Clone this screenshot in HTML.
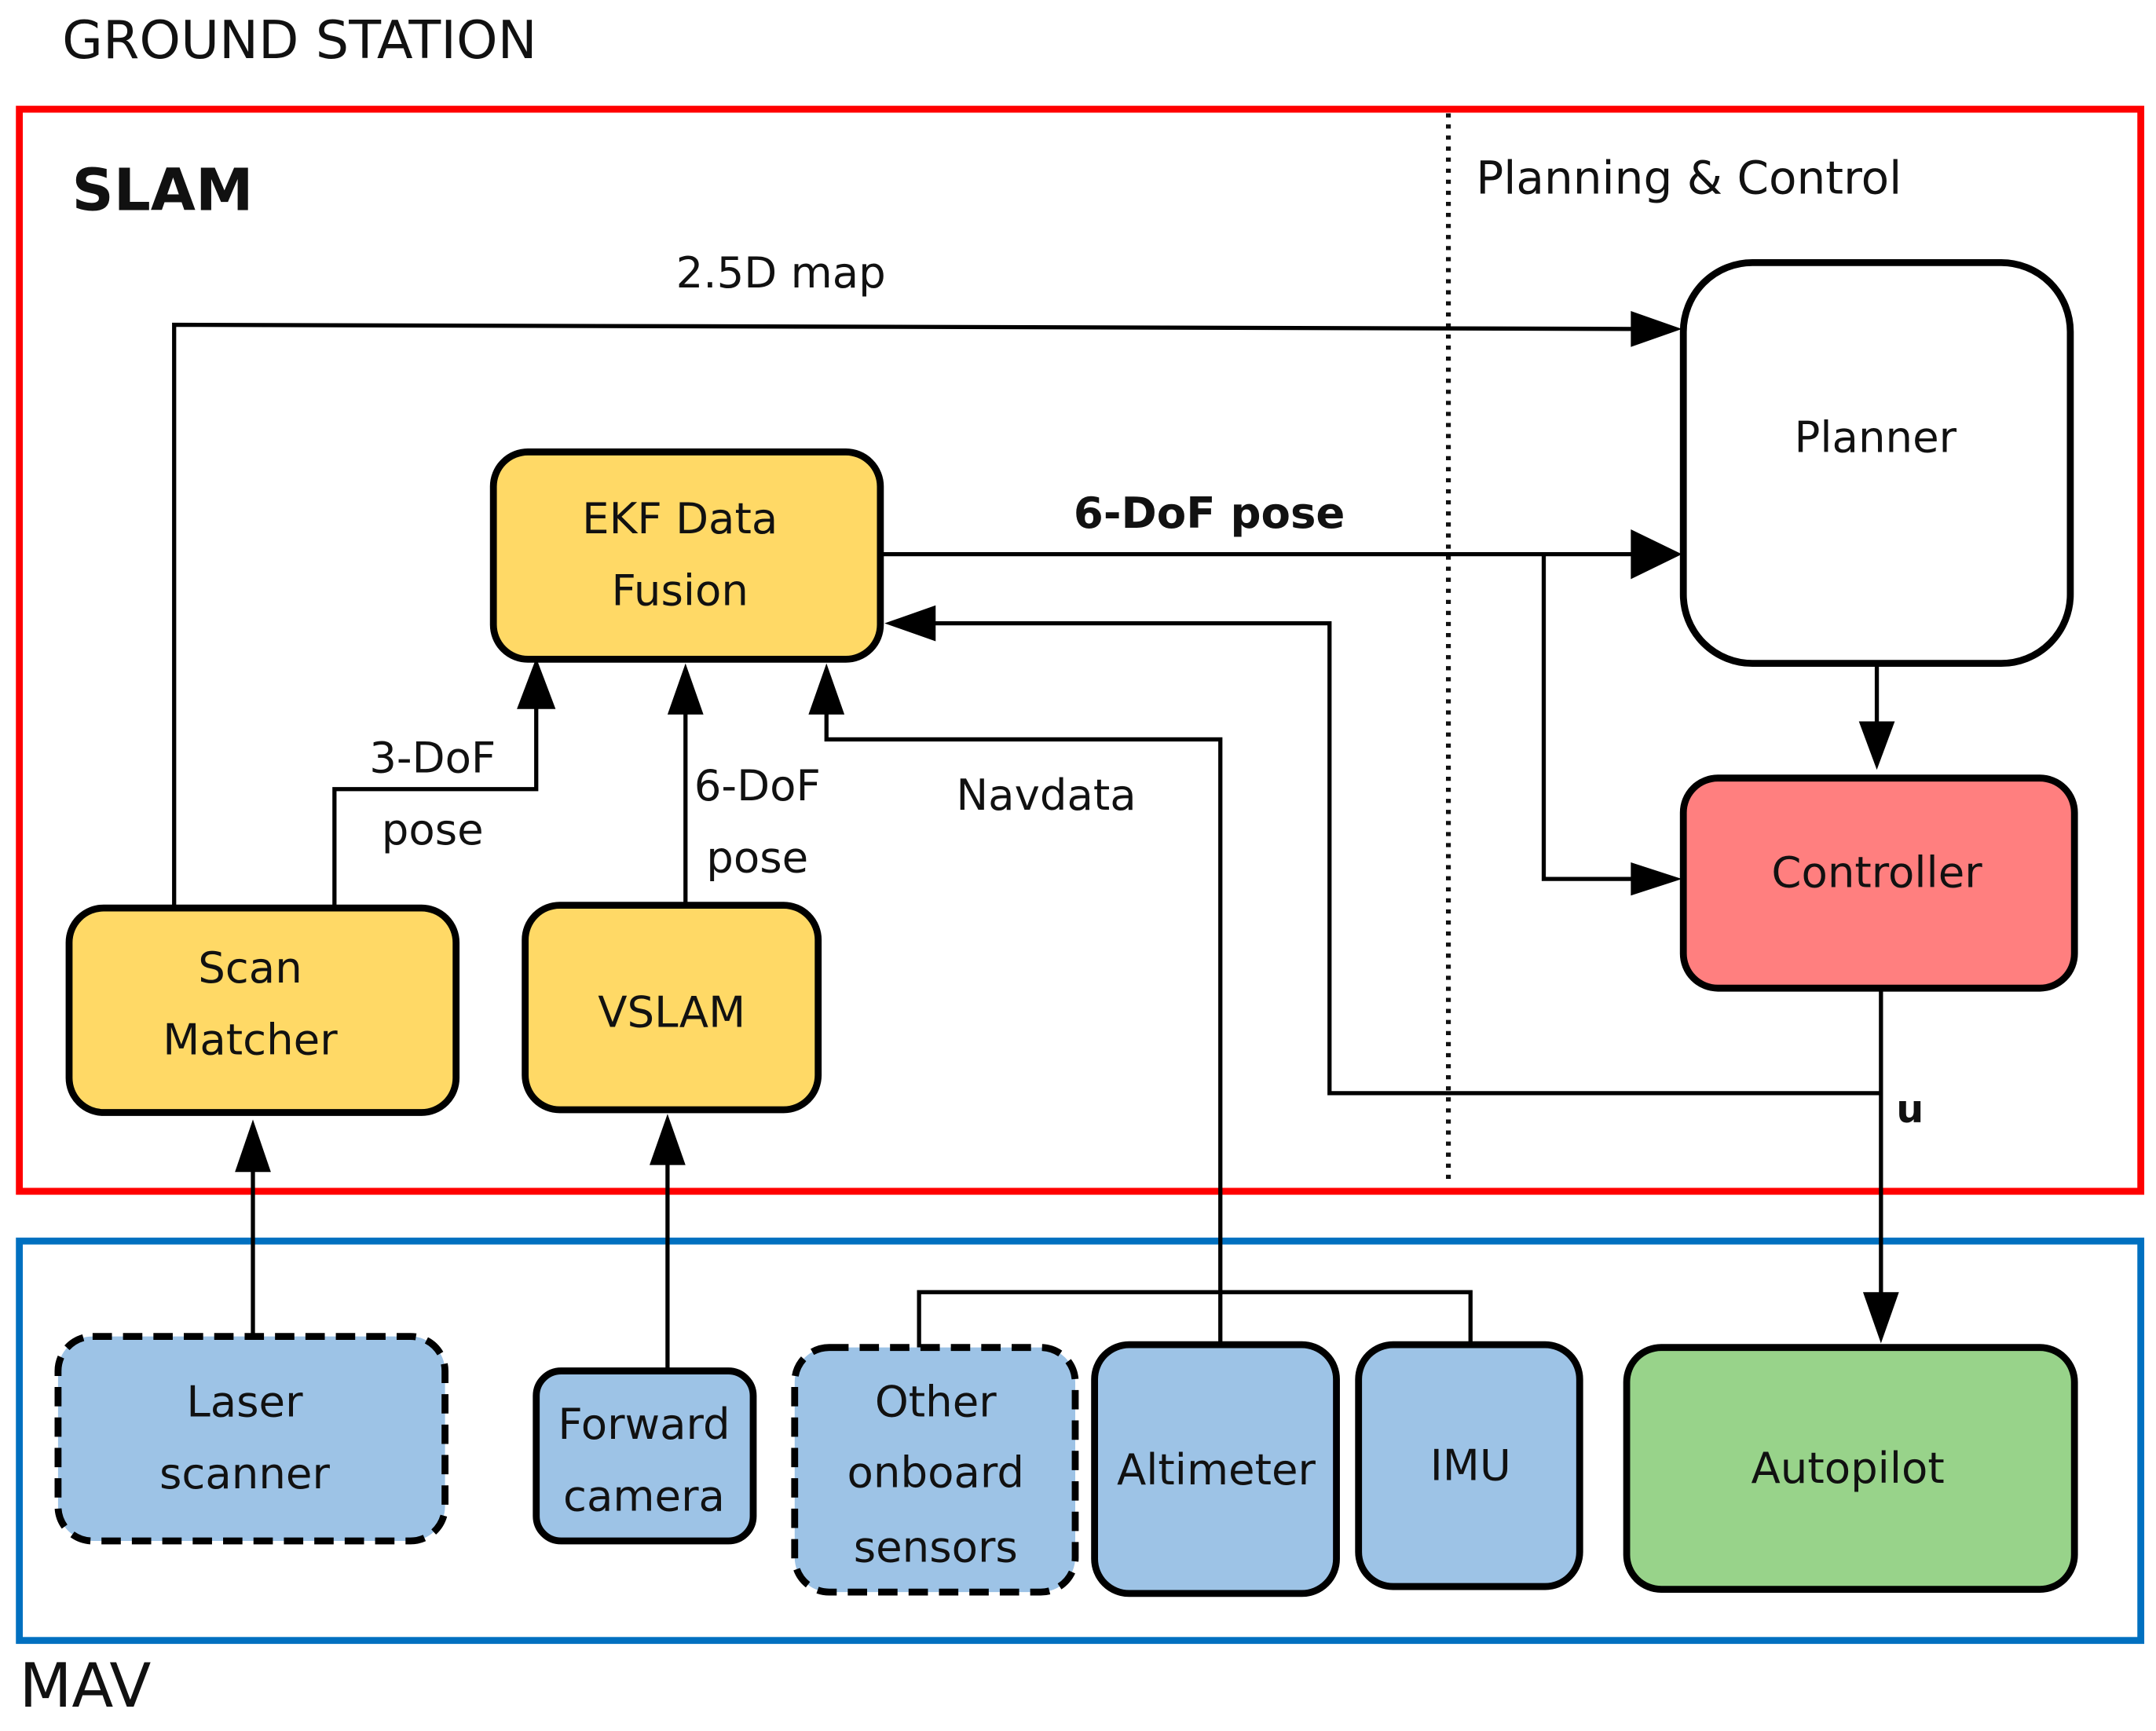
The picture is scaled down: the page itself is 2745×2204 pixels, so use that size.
<!DOCTYPE html>
<html><head><meta charset="utf-8"><style>html,body{margin:0;padding:0;background:#fff}svg{display:block}text{font-family:"DejaVu Sans","Liberation Sans",sans-serif}</style></head>
<body>
<svg width="2745" height="2204" viewBox="0 0 1560 1252.5" xmlns="http://www.w3.org/2000/svg">
<rect width="1560" height="1253" fill="#fff"/>
<text x="45" y="42" font-size="38" fill="#111">GROUND STATION</text>
<rect x="14" y="79" width="1535" height="783" fill="none" stroke="#ff0000" stroke-width="5"/>
<rect x="14" y="898" width="1535" height="289" fill="none" stroke="#0070c0" stroke-width="5"/>
<text x="14" y="1235" font-size="44" fill="#111">MAV</text>
<text x="52" y="152" font-size="42" font-weight="bold" fill="#111">SLAM</text>
<line x1="1048" y1="82" x2="1048" y2="858" stroke="#111" stroke-width="3.5" stroke-dasharray="3,5"/>
<text x="1068" y="140" font-size="33" fill="#111">Planning &amp; Control</text>

<g stroke="#000" stroke-width="3" fill="none">
<polyline points="126,655 126,235 1185,238"/>
<polyline points="637,401 1185,401"/>
<polyline points="1117,401 1117,636 1185,636"/>
<polyline points="1358,480 1358,528"/>
<polyline points="1361,715 1361,940"/>
<polyline points="1361,791 962,791 962,451 672,451"/>
<polyline points="883,973 883,535 598,535 598,512"/>
<polyline points="242,657 242,571 388,571 388,510"/>
<polyline points="496,655 496,512"/>
<polyline points="183,965 183,845"/>
<polyline points="483,992 483,840"/>
<polyline points="665,975 665,935 1064,935 1064,973"/>
</g>
<g fill="#000">
<polygon points="1217,238 1180,225 1180,251"/>
<polygon points="1217,401 1180,383 1180,419"/>
<polygon points="1217,636 1180,624 1180,648"/>
<polygon points="1358,557 1345,522 1371,522"/>
<polygon points="1361,972 1348,935 1374,935"/>
<polygon points="640,451 677,438 677,464"/>
<polygon points="598,480 585,517 611,517"/>
<polygon points="388,476 374,513 402,513"/>
<polygon points="496,480 483,517 509,517"/>
<polygon points="183,810 170,848 196,848"/>
<polygon points="483,806 470,843 496,843"/>
</g>

<g stroke="#000" stroke-width="5">
<rect x="1218" y="190" width="280" height="290" rx="50" fill="#fff"/>
<rect x="357" y="327" width="280" height="150" rx="25" fill="#ffd966"/>
<rect x="1218" y="563" width="283" height="152" rx="25" fill="#ff7f7f"/>
<rect x="50" y="657" width="280" height="148" rx="25" fill="#ffd966"/>
<rect x="380" y="655" width="212" height="148" rx="25" fill="#ffd966"/>
<rect x="42" y="967" width="280" height="148" rx="25" fill="#9dc3e6" stroke-dasharray="14,8"/>
<rect x="388" y="992" width="157" height="123" rx="18" fill="#9dc3e6"/>
<rect x="575" y="975" width="203" height="177" rx="25" fill="#9dc3e6" stroke-dasharray="14,8"/>
<rect x="792" y="973" width="175" height="180" rx="25" fill="#9dc3e6"/>
<rect x="983" y="973" width="160" height="175" rx="25" fill="#9dc3e6"/>
<rect x="1177" y="975" width="324" height="175" rx="25" fill="#98d38a"/>
</g>

<g font-size="31" fill="#111" text-anchor="middle">
<text x="565" y="208">2.5D map</text>
<text x="1357" y="327">Planner</text>
<text x="492" y="386">EKF Data</text>
<text x="492" y="438">Fusion</text>
<text x="875" y="382" font-weight="bold">6-DoF pose</text>
<text x="1358" y="642">Controller</text>
<text x="1382" y="812" font-weight="bold" font-size="28">u</text>
<text x="757" y="586">Navdata</text>
<text x="313" y="559">3-DoF</text>
<text x="313" y="611">pose</text>
<text x="548" y="579">6-DoF</text>
<text x="548" y="631">pose</text>
<text x="181" y="711">Scan</text>
<text x="181" y="763">Matcher</text>
<text x="486" y="743">VSLAM</text>
<text x="177" y="1025">Laser</text>
<text x="177" y="1077">scanner</text>
<text x="466" y="1041">Forward</text>
<text x="466" y="1093">camera</text>
<text x="677" y="1025">Other</text>
<text x="677" y="1076">onboard</text>
<text x="677" y="1130">sensors</text>
<text x="880" y="1074">Altimeter</text>
<text x="1064" y="1071">IMU</text>
<text x="1337" y="1073">Autopilot</text>
</g>
</svg>
</body></html>
